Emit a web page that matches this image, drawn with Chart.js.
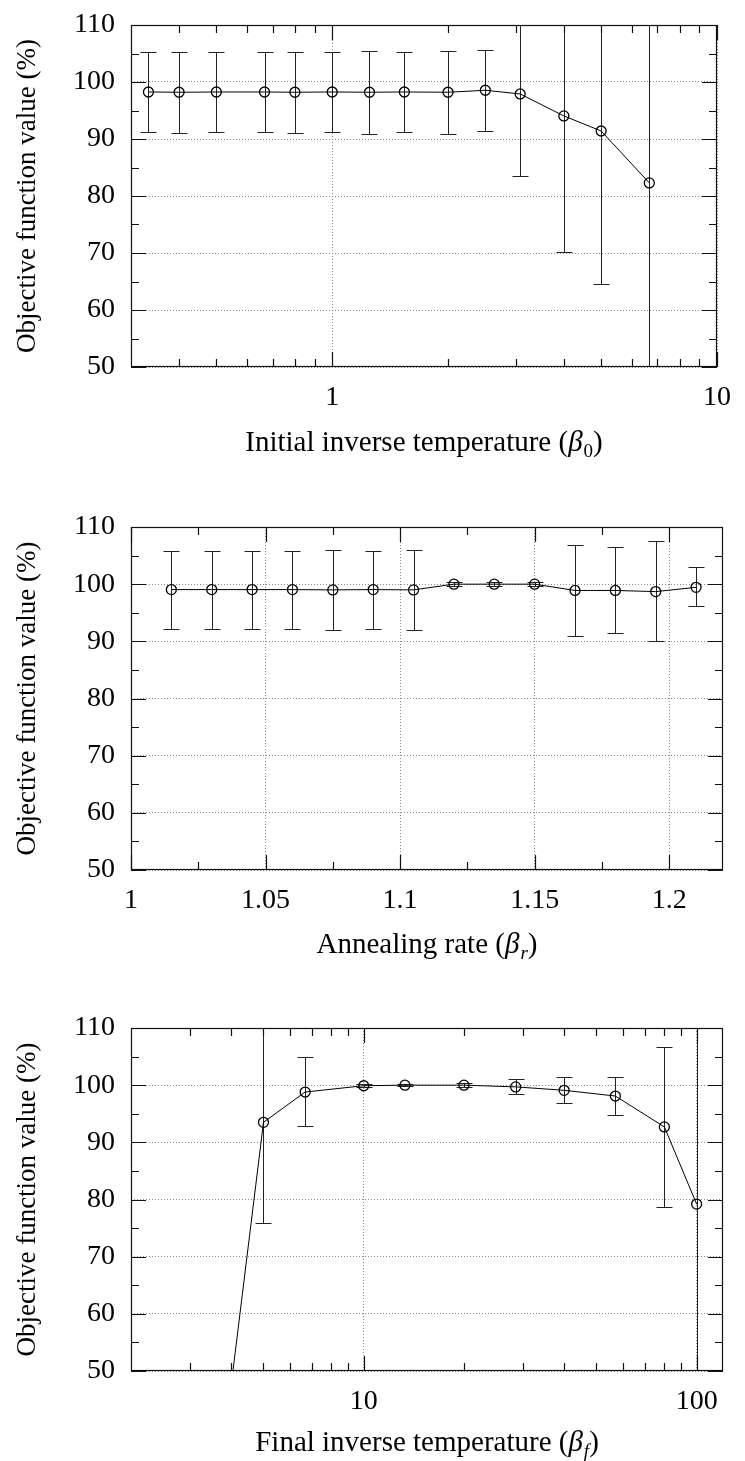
<!DOCTYPE html>
<html>
<head>
<meta charset="utf-8">
<script src="https://cdn.jsdelivr.net/npm/chart.js@4.4.1/dist/chart.umd.min.js"></script>
<style>
  body { margin: 0; background: #fff; overflow: hidden; }
  canvas { display: block; }
  #chart1 { margin-top: -15px; }
</style>
</head>
<body>
<canvas id="chart1" width="745" height="502"></canvas>
<canvas id="chart2" width="745" height="487"></canvas>
<canvas id="chart3" width="745" height="487"></canvas>
<script>
// ---- data: initial inverse temperature ----
const beta0 = [0.333, 0.4, 0.5, 0.667, 0.8, 1, 1.25, 1.54, 2, 2.5, 3.08, 4, 5, 6.67];
const beta0Mean = [98.25, 98.2, 98.25, 98.25, 98.2, 98.25, 98.2, 98.25, 98.2, 98.55, 97.9, 94.05, 91.4, 82.3];
const beta0Low = [91.15, 91.05, 91.15, 91.15, 91.05, 91.15, 90.8, 91.15, 90.9, 91.4, 83.5, 70.1, 64.6, 46.5];
const beta0High = [105.25, 105.3, 105.25, 105.25, 105.3, 105.3, 105.5, 105.3, 105.5, 105.7, 112.3, 118, 118.2, 118];

// ---- data: annealing rate ----
const betaR = [1.015, 1.03, 1.045, 1.06, 1.075, 1.09, 1.105, 1.12, 1.135, 1.15, 1.165, 1.18, 1.195, 1.21];
const betaRMean = [99.05, 99.05, 99.05, 99.05, 99.0, 99.05, 99.0, 100, 100, 100, 98.9, 98.9, 98.7, 99.45];
const betaRLow = [92.2, 92.2, 92.2, 92.2, 92.0, 92.15, 92.0, 99.7, 99.7, 99.7, 90.85, 91.4, 90.0, 96.1];
const betaRHigh = [105.8, 105.8, 105.8, 105.8, 106.0, 105.85, 106.0, 100.3, 100.3, 100.3, 106.9, 106.5, 107.5, 103.0];

// ---- data: final inverse temperature ----
const betaF = [4, 5, 6.67, 10, 13.3, 20, 28.6, 40, 57, 80, 100];
const betaFMean = [47.6, 93.5, 98.8, 99.9, 100, 100, 99.7, 99.1, 98.1, 92.7, 79.2];
const betaFLow = [47.0, 75.9, 92.9, 99.6, 99.8, 99.7, 98.5, 96.8, 94.8, 78.7, 44];
const betaFHigh = [48.2, 111.1, 104.9, 100.2, 100.2, 100.3, 101.0, 101.4, 101.5, 106.6, 114.4];

// ---- ticks ----
const yTicks = [50, 60, 70, 80, 90, 100, 110];
const yMinor = [55, 65, 75, 85, 95, 105];
const xTicks1 = [1, 10];
const xMinor1 = [0.4, 0.5, 0.6, 0.7, 0.8, 0.9, 2, 3, 4, 5, 6, 7, 8, 9];
const xTicks2 = [1, 1.05, 1.1, 1.15, 1.2];
const xMinor2 = [1.025, 1.075, 1.125, 1.175];
const xTicks3 = [10, 100];
const xMinor3 = [3, 4, 5, 6, 7, 8, 9, 20, 30, 40, 50, 60, 70, 80, 90];

const yTitle = 'Objective function value (%)';
// title pieces: [text, style]  ('' upright, 'i' italic, 'sub' upright subscript, 'isub' italic subscript)
const xTitle1 = [['Initial inverse temperature (', ''], ['β', 'i'], ['0', 'sub'], [')', '']];
const xTitle2 = [['Annealing rate (', ''], ['β', 'i'], ['r', 'isub'], [')', '']];
const xTitle3 = [['Final inverse temperature (', ''], ['β', 'i'], ['f', 'isub'], [')', '']];

const FONT = "'Liberation Serif', 'Times New Roman', serif";

// gnuplot-like frame, inward ticks, error bars and the x title
const gnuplotStyle = {
  id: 'gnuplotStyle',
  beforeDatasetsDraw(chart, args, opts) {
    const { ctx, chartArea: a, scales: { x, y } } = chart;
    ctx.save();
    ctx.beginPath();
    ctx.rect(a.left, a.top, a.right - a.left, a.bottom - a.top);
    ctx.clip();
    ctx.strokeStyle = '#222';
    ctx.lineWidth = 1;
    opts.xs.forEach((xv, i) => {
      const px = Math.round(x.getPixelForValue(xv)) + 0.5;
      const lo = Math.round(y.getPixelForValue(opts.lo[i])) + 0.5;
      const hi = Math.round(y.getPixelForValue(opts.hi[i])) + 0.5;
      ctx.beginPath();
      ctx.moveTo(px, lo); ctx.lineTo(px, hi);
      ctx.moveTo(px - 8, lo); ctx.lineTo(px + 8, lo);
      ctx.moveTo(px - 8, hi); ctx.lineTo(px + 8, hi);
      ctx.stroke();
    });
    ctx.restore();
  },
  afterDraw(chart, args, opts) {
    const { ctx, chartArea: a, scales: { x, y } } = chart;
    ctx.save();
    ctx.strokeStyle = '#111';
    ctx.lineWidth = 1.2;
    ctx.beginPath();
    const xt = (vals, len) => vals.forEach(v => {
      const p = Math.round(x.getPixelForValue(v)) + 0.5;
      ctx.moveTo(p, a.bottom); ctx.lineTo(p, a.bottom - len);
      ctx.moveTo(p, a.top); ctx.lineTo(p, a.top + len);
    });
    const yt = (vals, len) => vals.forEach(v => {
      const p = Math.round(y.getPixelForValue(v)) + 0.5;
      ctx.moveTo(a.left, p); ctx.lineTo(a.left + len, p);
      ctx.moveTo(a.right, p); ctx.lineTo(a.right - len, p);
    });
    xt(opts.xMajor, 15); xt(opts.xMinor, 8);
    yt(yTicks, 15); yt(yMinor, 8);
    ctx.stroke();
    ctx.strokeRect(a.left + 0.5, a.top + 0.5, a.right - a.left - 1, a.bottom - a.top - 1);

    // x title with italic beta and subscript
    const fontFor = s => {
      if (s === 'sub') return '19px ' + FONT;
      if (s === 'isub') return 'italic 19px ' + FONT;
      if (s === 'i') return 'italic 29px ' + FONT;
      return '29px ' + FONT;
    };
    let total = 0;
    opts.title.forEach(([t, s]) => { ctx.font = fontFor(s); total += ctx.measureText(t).width + (s === 'i' ? 1 : 0); });
    let cx = (a.left + a.right) / 2 - total / 2;
    const cy = a.bottom + opts.titleOffset;
    ctx.fillStyle = '#000';
    ctx.textBaseline = 'alphabetic';
    opts.title.forEach(([t, s]) => {
      ctx.font = fontFor(s);
      const dy = (s === 'sub' || s === 'isub') ? 6 : 0;
      ctx.fillText(t, cx, cy + 10 + dy);
      cx += ctx.measureText(t).width + (s === 'i' ? 1 : 0);
    });
    ctx.restore();
  }
};

function makeChart(id, xs, mean, lo, hi, c) {
  return new Chart(document.getElementById(id), {
    type: 'line',
    data: {
      datasets: [{
        data: xs.map((v, i) => ({ x: v, y: mean[i] })),
        borderColor: '#000',
        borderWidth: 1,
        tension: 0,
        pointRadius: 5,
        pointBorderWidth: 1.3,
        pointBorderColor: '#000',
        pointBackgroundColor: 'rgba(0,0,0,0)'
      }]
    },
    plugins: [gnuplotStyle],
    options: {
      responsive: false,
      animation: false,
      events: [],
      layout: { padding: { top: c.top, right: 22, bottom: 0, left: 0 } },
      plugins: {
        legend: { display: false },
        tooltip: { enabled: false },
        gnuplotStyle: {
          xs: xs, lo: lo, hi: hi,
          xMajor: c.xTicks, xMinor: c.xMinor,
          title: c.title, titleOffset: c.titleOffset
        }
      },
      scales: {
        x: {
          type: c.xType,
          min: c.xMin,
          max: c.xMax,
          afterBuildTicks: s => { s.ticks = c.xTicks.map(v => ({ value: v })); },
          afterFit: s => { s.height = c.xAxisH; },
          ticks: {
            autoSkip: false, maxRotation: 0, padding: 14, color: '#000',
            font: { family: FONT, size: 28 },
            callback: v => String(v)
          },
          grid: { color: '#8a8a8a', lineWidth: 1, drawTicks: false },
          border: { display: false, dash: [1, 2] }
        },
        y: {
          min: 50,
          max: 110,
          afterBuildTicks: s => { s.ticks = yTicks.map(v => ({ value: v })); },
          afterFit: s => { s.width = 131; },
          ticks: {
            padding: 16, color: '#000',
            font: { family: FONT, size: 28 },
            callback: v => String(v)
          },
          title: {
            display: true, text: yTitle, color: '#000',
            font: { family: FONT, size: 27 },
            padding: { top: 12, bottom: 0 }
          },
          grid: { color: '#8a8a8a', lineWidth: 1, drawTicks: false },
          border: { display: false, dash: [1, 2] }
        }
      }
    }
  });
}

makeChart('chart1', beta0, beta0Mean, beta0Low, beta0High, {
  top: 40, xAxisH: 120, xType: 'logarithmic', xMin: 0.3, xMax: 10,
  xTicks: xTicks1, xMinor: xMinor1, title: xTitle1, titleOffset: 74
});
makeChart('chart2', betaR, betaRMean, betaRLow, betaRHigh, {
  top: 40, xAxisH: 104, xType: 'linear', xMin: 1, xMax: 1.22,
  xTicks: xTicks2, xMinor: xMinor2, title: xTitle2, titleOffset: 73
});
makeChart('chart3', betaF, betaFMean, betaFLow, betaFHigh, {
  top: 54, xAxisH: 90, xType: 'logarithmic', xMin: 2, xMax: 120,
  xTicks: xTicks3, xMinor: xMinor3, title: xTitle3, titleOffset: 70
});
</script>
</body>
</html>
